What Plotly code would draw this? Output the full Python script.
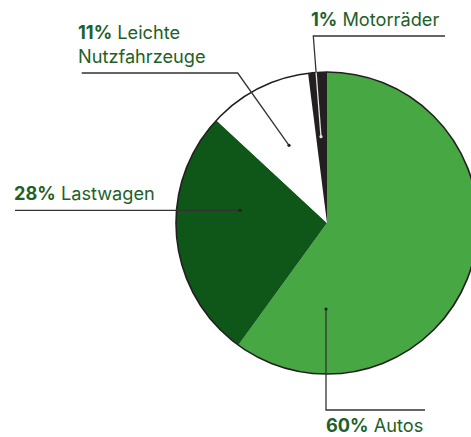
import plotly.graph_objects as go

# Data
categories = ["Autos", "Lastwagen", "Leichte Nutzfahrzeuge", "Motorräder"]
shares = [60, 26.9, 11.1, 2.0]            # slice sizes as drawn
share_labels = ["60%", "28%", "11%", "1%"]  # printed labels
colors = ["#47a843", "#0f5619", "#ffffff", "#231f20"]

W, H = 490, 437
TXT = "#1d6128"
LINE = "#333333"

fig = go.Figure()

pie_domain = dict(x=[176 / W, 478 / W], y=[(H - 374) / H, (H - 72) / H])

fig.add_trace(go.Pie(
    labels=categories, values=shares, sort=False, direction="clockwise",
    rotation=0, marker=dict(colors=colors, line=dict(width=0)),
    textinfo="none", hoverinfo="label+percent", domain=pie_domain,
    showlegend=False,
))
# outer outline
fig.add_trace(go.Pie(
    labels=["outline"], values=[1], sort=False,
    marker=dict(colors=["rgba(0,0,0,0)"], line=dict(color="#231f20", width=1.6)),
    textinfo="none", hoverinfo="skip", domain=pie_domain, showlegend=False,
))

# leader lines (pixel coords) : (points, colour)
leaders = [
    ([(445, 36), (313.3, 36), (316.1, 72.5)], LINE),
    ([(316.1, 72.5), (321, 136.7)], "#e6e6e6"),
    ([(81.7, 73), (237.7, 73), (289, 145.3)], LINE),
    ([(15, 210.3), (240, 210.3)], LINE),
    ([(425, 410), (326, 410), (326, 309)], LINE),
]
dots = [((321, 136.7), "#e6e6e6"), ((289, 145.3), "#231f20"),
        ((240, 210.3), "#231f20"), ((326, 309), "#231f20")]

for pts, col in leaders:
    path = "M " + " L ".join(f"{x},{y}" for x, y in pts)
    fig.add_shape(type="path", path=path, xref="x", yref="y", layer="above",
                  line=dict(color=col, width=1.3))
for (x, y), col in dots:
    fig.add_shape(type="circle", xref="x", yref="y", layer="above",
                  x0=x - 1.6, x1=x + 1.6, y0=y - 1.6, y1=y + 1.6,
                  fillcolor=col, line=dict(width=0))

label_pos = [(325, 425), (13, 193), (77, 44), (310, 19)]
names = ["Autos", "Lastwagen", "Leichte<br>Nutzfahrzeuge", "Motorräder"]
for (x, y), pct, nm in zip(label_pos, share_labels, names):
    fig.add_annotation(x=x, y=y, xref="x", yref="y", xanchor="left", yanchor="middle",
                       align="left", showarrow=False, borderpad=0,
                       text=f"<b>{pct}</b> {nm}",
                       font=dict(family="Inter", size=18.2, color=TXT))

fig.update_layout(
    width=W, height=H, margin=dict(l=0, r=0, t=0, b=0),
    paper_bgcolor="white", plot_bgcolor="rgba(0,0,0,0)",
    xaxis=dict(range=[0, W], visible=False, domain=[0, 1], fixedrange=True),
    yaxis=dict(range=[H, 0], visible=False, domain=[0, 1], fixedrange=True),
    showlegend=False,
)

fig.write_html("out.html", config={"displayModeBar": False},
               post_script="document.body.style.margin='0';document.body.style.overflow='hidden';document.documentElement.style.overflow='hidden';")
